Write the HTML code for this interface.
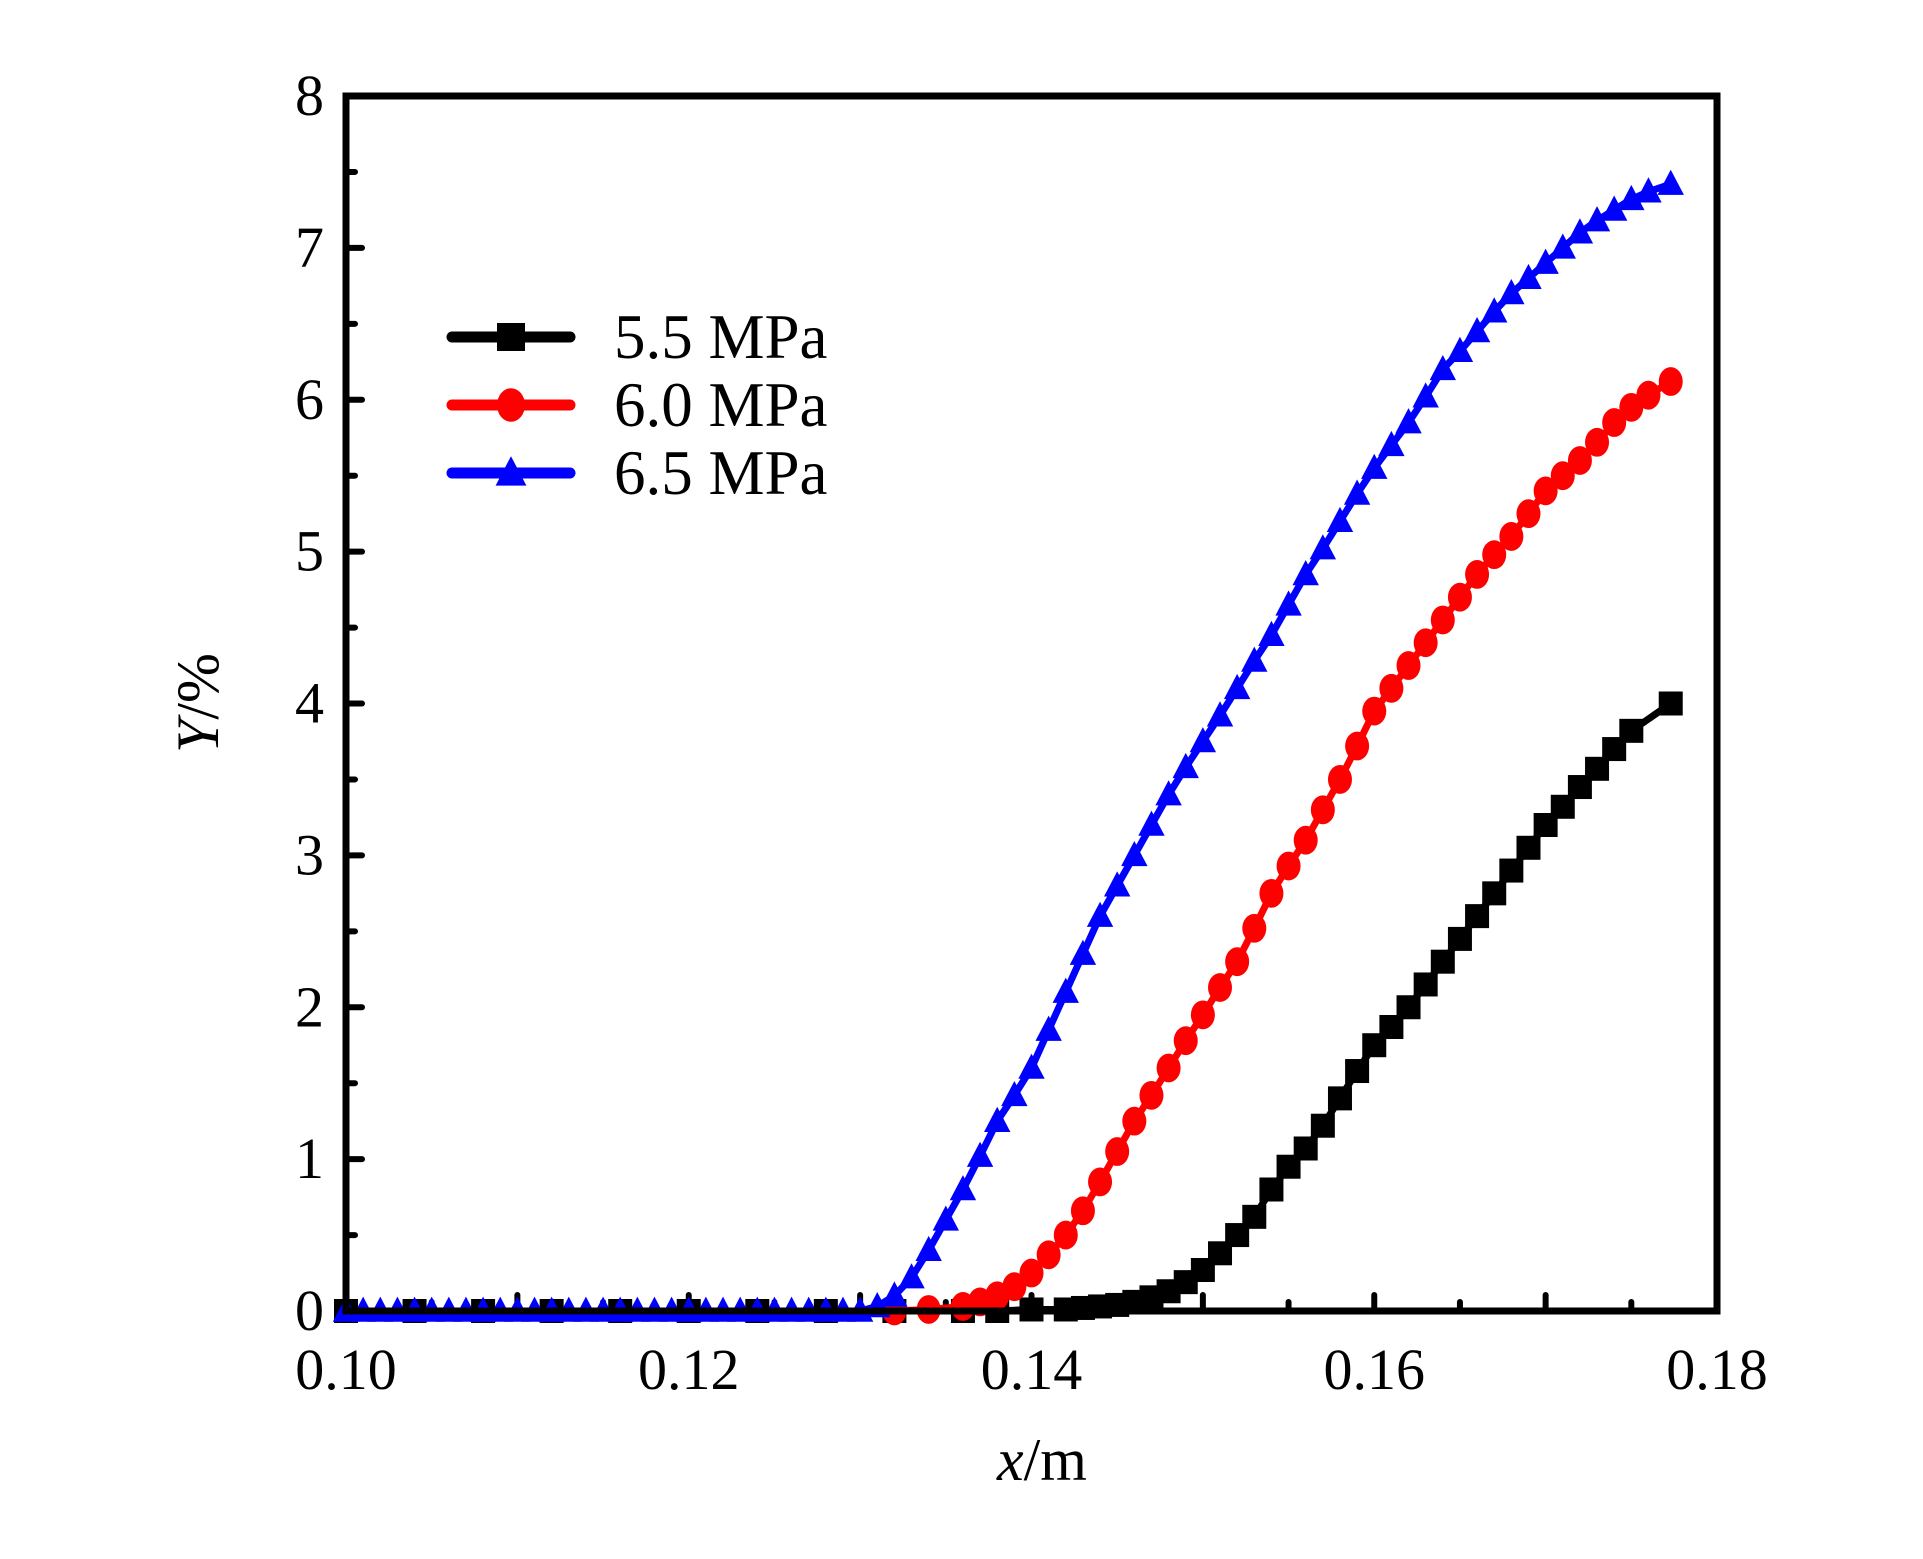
<!DOCTYPE html>
<html><head><meta charset="utf-8"><style>
html,body{margin:0;padding:0;background:#fff}
svg{display:block;font-family:"Liberation Serif",serif}
</style></head><body>
<svg id="chart" width="1923" height="1559" viewBox="0 0 1923 1559">
<g id="plot"></g>
</svg>
<script>
const xTicks=["0.10","0.12","0.14","0.16","0.18"];
const yTicks=["0","1","2","3","4","5","6","7","8"];
const seriesNames=["5.5 MPa","6.0 MPa","6.5 MPa"];
const x55=[0.100,0.104,0.108,0.112,0.116,0.120,0.124,0.128,0.132,0.136,0.138,0.140,0.142,0.143,0.144,0.145,0.146,0.147,0.148,0.149,0.150,0.151,0.152,0.153,0.154,0.155,0.156,0.157,0.158,0.159,0.160,0.161,0.162,0.163,0.164,0.165,0.166,0.167,0.168,0.169,0.170,0.171,0.172,0.173,0.174,0.175,0.1773];
const y55=[0,0,0,0,0,0,0,0,0,0,0,0.01,0.01,0.02,0.03,0.04,0.06,0.09,0.13,0.19,0.27,0.38,0.5,0.62,0.8,0.95,1.07,1.22,1.4,1.58,1.75,1.87,2.0,2.15,2.3,2.45,2.6,2.75,2.9,3.05,3.2,3.32,3.45,3.57,3.7,3.82,4.0];
const x60=[0.132,0.134,0.136,0.137,0.138,0.139,0.140,0.141,0.142,0.143,0.144,0.145,0.146,0.147,0.148,0.149,0.150,0.151,0.152,0.153,0.154,0.155,0.156,0.157,0.158,0.159,0.160,0.161,0.162,0.163,0.164,0.165,0.166,0.167,0.168,0.169,0.170,0.171,0.172,0.173,0.174,0.175,0.176,0.1773];
const y60=[0,0.01,0.03,0.06,0.1,0.16,0.25,0.37,0.5,0.66,0.85,1.05,1.25,1.42,1.6,1.78,1.95,2.13,2.3,2.52,2.75,2.93,3.1,3.3,3.5,3.72,3.95,4.1,4.25,4.4,4.55,4.7,4.85,4.98,5.1,5.25,5.4,5.5,5.6,5.72,5.85,5.95,6.03,6.12];
const x65=[0.100,0.101,0.102,0.103,0.104,0.105,0.106,0.107,0.108,0.109,0.110,0.111,0.112,0.113,0.114,0.115,0.116,0.117,0.118,0.119,0.120,0.121,0.122,0.123,0.124,0.125,0.126,0.127,0.128,0.129,0.130,0.131,0.132,0.133,0.134,0.135,0.136,0.137,0.138,0.139,0.140,0.141,0.142,0.143,0.144,0.145,0.146,0.147,0.148,0.149,0.150,0.151,0.152,0.153,0.154,0.155,0.156,0.157,0.158,0.159,0.160,0.161,0.162,0.163,0.164,0.165,0.166,0.167,0.168,0.169,0.170,0.171,0.172,0.173,0.174,0.175,0.176,0.1773];
const y65=[0,0,0,0,0,0,0,0,0,0,0,0,0,0,0,0,0,0,0,0,0,0,0,0,0,0,0,0,0,0,0,0.03,0.1,0.22,0.4,0.6,0.8,1.02,1.25,1.42,1.6,1.85,2.1,2.35,2.6,2.8,3.0,3.2,3.4,3.58,3.75,3.92,4.1,4.28,4.45,4.65,4.85,5.02,5.2,5.38,5.55,5.7,5.85,6.02,6.2,6.32,6.45,6.58,6.7,6.8,6.9,7.0,7.1,7.18,7.25,7.32,7.37,7.42];
const L=346,R=1717,T=96,B=1311;
const sx=v=>L+(v-0.10)/0.08*(R-L);
const sy=v=>B-v/8*(B-T);
const NS="http://www.w3.org/2000/svg";
const svg=document.getElementById('chart');
function mk(tag,attrs,parent){const e=document.createElementNS(NS,tag);for(const k in attrs)e.setAttribute(k,attrs[k]);(parent||svg).appendChild(e);return e;}
for(let i=0;i<=16;i++){const v=i*0.5;const y=sy(v);const len=i%2?9:16;
 const t=mk('line',{x1:L,x2:L+len,y1:y,y2:y,stroke:'#000','stroke-width':6,'stroke-linecap':'round'});
 
 }
for(let i=0;i<=16;i++){const v=0.10+i*0.005;const x=sx(v);const len=i%2?9:16;
 const t=mk('line',{x1:x,x2:x,y1:B,y2:B-len,stroke:'#000','stroke-width':6,'stroke-linecap':'round'});
 
 }
yTicks.forEach(s=>{const t=mk('text',{x:324,y:sy(+s)+19,'text-anchor':'end','font-size':58});t.textContent=s;
 
 });
xTicks.forEach(s=>{const t=mk('text',{x:sx(+s),y:1389,'text-anchor':'middle','font-size':58});t.textContent=s;
 
 });
const colors=['#000','#f00','#00f'];
const shapes=['sq','ci','tr'];
function marker(x,y,k,c,s){
 let e;
 if(k==='sq')e=mk('rect',{x:x-s,y:y-s,width:2*s,height:2*s,fill:c});
 else if(k==='ci')e=mk('ellipse',{cx:x,cy:y,rx:s,ry:s*1.2,fill:c});
 else e=mk('polygon',{points:`${x},${y-s*1.2} ${x+s*1.1},${y+s*0.9} ${x-s*1.1},${y+s*0.9}`,fill:c});
 return e;}
const data=[[x55,y55],[x60,y60],[x65,y65]];
data.forEach((d,si)=>{
 const g=mk('g',{});
 
 
 const pts=d[0].map((x,i)=>sx(x)+','+sy(d[1][i])).join(' ');
 mk('polyline',{points:pts,fill:'none',stroke:colors[si],'stroke-width':7,'stroke-linejoin':'round'},g);
 d[0].forEach((x,i)=>{const m=marker(sx(x),sy(d[1][i]),shapes[si],colors[si],12);g.appendChild(m);
  
  });
});
const fr=mk('rect',{x:L,y:T,width:R-L,height:B-T,fill:'none',stroke:'#000','stroke-width':7});


const ly=[337,405,473];
seriesNames.forEach((n,i)=>{
 const g=mk('g',{});
 
 
 mk('line',{x1:452,x2:570,y1:ly[i],y2:ly[i],stroke:colors[i],'stroke-width':11,'stroke-linecap':'round'},g);
 g.appendChild(marker(511,ly[i],shapes[i],colors[i],14));
 const t=mk('text',{x:614,y:ly[i]+21,'font-size':63},g);t.textContent=n;
});
const xl=mk('text',{x:1042,y:1480,'text-anchor':'middle','font-size':60});
xl.innerHTML='<tspan font-style="italic">x</tspan>/m';


const yl=mk('text',{x:0,y:0,'text-anchor':'middle','font-size':60,transform:'translate(218,703) rotate(-90)'});
yl.innerHTML='<tspan font-style="italic">Y</tspan>/%';


</script>
</body></html>
